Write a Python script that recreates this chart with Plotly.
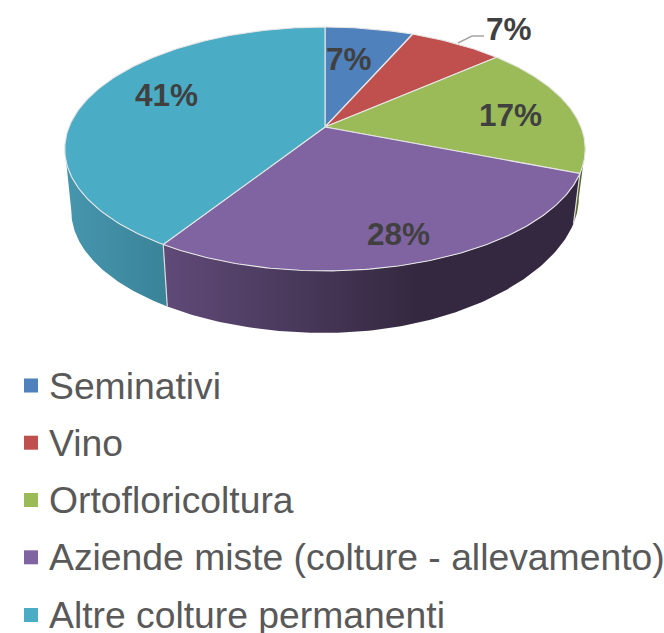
import numpy as np
import plotly.graph_objects as go

categories = ["Seminativi", "Vino", "Ortofloricoltura", "Aziende miste (colture - allevamento)", "Altre colture permanenti"]
values = [6.5, 7.0, 17.5, 28.0, 41.0]
labels = ["7%", "7%", "17%", "28%", "41%"]
colors = ["#4F81BD", "#C0504D", "#9BBB59", "#8064A2", "#4BACC6"]

# picture-space geometry of the tilted pie
CX, CY, A, B, K = 325.0, 127.0, 256.0, 118.0, 0.18
label_pos = [(349, 59), (509, 29), (510, 115), (398, 234), (166, 95)]
legend_y = [385.5, 442.7, 500, 557.3, 615]
LEGEND_MARK_X, LEGEND_TEXT_X = 31, 47


def top(theta):
    t = np.radians(theta)
    w = 1 + K * np.cos(t)
    return CX + A * np.sin(t) / w, CY - B * np.cos(t) / w


def bottom(theta):
    x, y = top(theta)
    right = np.clip((x - CX) / 255, 0, 1)
    return CX + (x - CX) * 0.975, y + 62 - 12 * right ** 2


edges = np.concatenate([[0], np.cumsum(values) * 3.6])
fig = go.Figure()

# side walls: (from angle, to angle, gradient stops left to right)
walls = [
    (100, edges[3], [[0, "#5f7336"], [1, "#46542a"]]),
    (edges[3], edges[4], [[0, "#604a78"], [0.62, "#33283f"], [1, "#33283f"]]),
    (edges[4], 260, [[0, "#4696ae"], [1, "#3a8399"]]),
]
for a0, a1, scale in walls:
    th = np.linspace(a0, a1, 120)
    tx, ty = top(th)
    bx, by = bottom(th)
    xs = np.concatenate([tx, bx[::-1], tx[:1]])
    ys = np.concatenate([ty, by[::-1], ty[:1]])
    fig.add_trace(go.Scatter(
        x=xs, y=ys, mode="lines", line=dict(width=0), fill="toself",
        fillgradient=dict(type="horizontal", colorscale=scale),
        showlegend=False, hoverinfo="skip"))

# seams between walls
for th in edges[3:5]:
    tx, ty = top(th)
    bx, by = bottom(th)
    fig.add_trace(go.Scatter(x=[tx, bx], y=[ty, by], mode="lines",
                             line=dict(color="#dcdcdc", width=1.2),
                             showlegend=False, hoverinfo="skip"))

# top faces
for i, cat in enumerate(categories):
    th = np.linspace(edges[i], edges[i + 1], 150)
    rx, ry = top(th)
    fig.add_trace(go.Scatter(
        x=np.concatenate([[CX], rx, [CX]]), y=np.concatenate([[CY], ry, [CY]]),
        mode="lines", fill="toself", fillcolor=colors[i],
        line=dict(color="#e6e6e6", width=1.1),
        name=cat, text=labels[i], hoverinfo="name+text", showlegend=False))

# legend entries
for i, cat in enumerate(categories):
    fig.add_trace(go.Scatter(x=[LEGEND_MARK_X], y=[legend_y[i]], mode="markers", name=cat,
                             marker=dict(symbol="square", size=14, color=colors[i]),
                             showlegend=False, hoverinfo="name"))
    fig.add_annotation(x=LEGEND_TEXT_X, y=legend_y[i], text=cat, showarrow=False, xanchor="left",
                       font=dict(family="Liberation Sans", size=37.3, color="#595959"))

for lab, (x, y) in zip(labels, label_pos):
    fig.add_annotation(x=x, y=y, text=f"<b>{lab}</b>", showarrow=False,
                       font=dict(family="Liberation Sans", size=31.5, color="#404040"))

fig.update_layout(
    width=664, height=633, margin=dict(l=0, r=0, t=0, b=0),
    paper_bgcolor="white", plot_bgcolor="white", showlegend=False,
    xaxis=dict(range=[0, 664], visible=False, fixedrange=True),
    yaxis=dict(range=[633, 0], visible=False, fixedrange=True),
    shapes=[dict(type="path", path="M 458 43 L 472 36 L 484 36",
                 line=dict(color="#a6a6a6", width=1.5))],
)
fig.write_html("out.html", config={"displayModeBar": False},
               post_script="document.body.style.margin='0';document.documentElement.style.overflow='hidden';")
